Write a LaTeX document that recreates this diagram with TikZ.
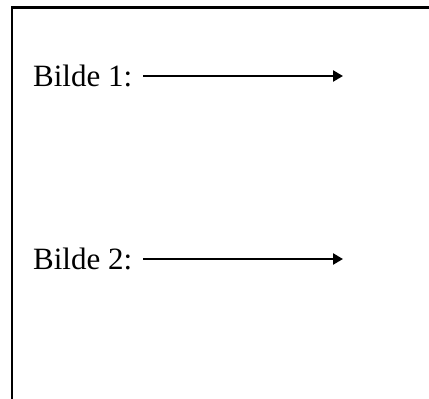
\documentclass[tikz,border=0pt]{standalone}
\usepackage{fontspec}
\setmainfont{Liberation Serif}
\usetikzlibrary{arrows.meta}
\begin{document}
\begin{tikzpicture}[x=1pt,y=-1pt,
  lbl/.style={anchor=base west,inner sep=0pt,font=\fontsize{31}{37}\selectfont},
  arr/.style={line width=2.8pt,-{Triangle[length=10pt,width=11pt]}},
  frame/.style={line width=2.6pt}]
\useasboundingbox (0,0) rectangle (429,399);
\draw[frame] (431,7.5) -- (12,7.5) -- (12,401);
\node[lbl] (b1) at (33,86) {Bilde 1:};
\coordinate (s1) at (143,76);
\coordinate (e1) at (343,76);
\draw[arr] (s1) -- (e1);
\node[lbl] (b2) at (33,269) {Bilde 2:};
\coordinate (s2) at (143,259);
\coordinate (e2) at (343,259);
\draw[arr] (s2) -- (e2);
\end{tikzpicture}
\end{document}
